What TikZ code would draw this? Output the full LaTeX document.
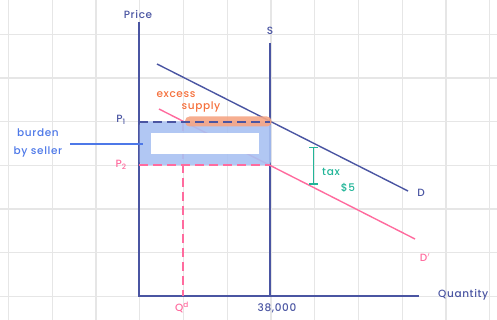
\documentclass[tikz,border=0pt]{standalone}
\usepackage{fontspec}
\setmainfont{Poppins}[LetterSpace=6, BoldFont={Poppins Medium}]
\definecolor{gridc}{HTML}{E6E6E6}
\definecolor{navy}{HTML}{4A55A2}
\definecolor{pinkc}{HTML}{FF6B9E}
\definecolor{orangec}{HTML}{F5703C}
\definecolor{orangehl}{HTML}{F5A584}
\definecolor{bluehl}{HTML}{A9C1F2}
\definecolor{bluet}{HTML}{4D78E8}
\definecolor{greenc}{HTML}{22B598}
\tikzset{
  gridline/.style={gridc, line width=1.4pt},
  axis/.style={navy, line width=1.8pt},
  curve/.style={line width=1.4pt},
  dashline/.style={line width=1.6pt, dash pattern=on 9pt off 5pt},
  lbl/.style={inner sep=0pt, font=\fontsize{10.5}{12}\selectfont\bfseries},
}
\begin{document}
\begin{tikzpicture}[x=1pt,y=-1pt]
\useasboundingbox (0,0) rectangle (497,320);
% grid
\foreach \k in {0,...,11} \draw[gridline] ({8.5+43.75*\k},0) -- ({8.5+43.75*\k},320);
\foreach \k in {0,...,6} \draw[gridline] (0,{34.3+43.67*\k}) -- (497,{34.3+43.67*\k});
% coordinates
\coordinate (ytop) at (139,22);
\coordinate (org) at (139,296);
\coordinate (xend) at (419,296);
\coordinate (stop) at (270,43);
\coordinate (sbot) at (270,296);
\coordinate (d1) at (157,64);
\coordinate (d2) at (408,191);
\coordinate (dd1) at (159,109);
\coordinate (dd2) at (415,239);
\coordinate (qtop) at (183,122);
\coordinate (qbot) at (183,296);
\coordinate (p1a) at (139,122);
\coordinate (p1b) at (270,122);
\coordinate (p2a) at (139,165);
\coordinate (p2b) at (270,165);
\coordinate (bl1) at (70,144);
\coordinate (bl2) at (143,144);
\coordinate (t1) at (313.5,147.5);
\coordinate (t2) at (313.5,184);
% axes and curves
\draw[axis] (ytop) -- (org) -- (xend);
\draw[navy, line width=1.6pt] (stop) -- (sbot);
\draw[navy, curve] (d1) -- (d2);
\draw[pinkc, curve] (dd1) -- (dd2);
\draw[pinkc, dashline] (qtop) -- (qbot);
% highlights
\fill[bluehl, opacity=0.9, rounded corners=4pt] (139.5,121.5) rectangle (271,165.5);
\fill[white] (151,133.5) rectangle (258.5,154);
\fill[orangehl, opacity=0.9, rounded corners=4.5pt] (185,116.5) rectangle (271.5,126.5);
% price lines
\draw[navy, dashline] (p1a) -- (p1b);
\draw[pinkc, dashline] (p2a) -- (p2b);
\draw[bluet, line width=1.4pt] (bl1) -- (bl2);
% tax bracket
\draw[greenc, line width=1.8pt] (t1) -- (t2);
\draw[greenc, line width=1.8pt] ([xshift=-4.5pt]t1) -- ([xshift=4.5pt]t1);
\draw[greenc, line width=1.8pt] ([xshift=-4.5pt]t2) -- ([xshift=4.5pt]t2);
% labels
\node[lbl, navy] (price) at (138,15) {Price};
\node[lbl, navy] (slbl) at (270,31) {S};
\node[lbl, orangec] (exc) at (176,95) {excess};
\node[lbl, orangec] (sup) at (201,107) {supply};
\node[lbl, navy] (p1) at (121,120) {P\textsubscript{1}};
\node[lbl, pinkc] (p2) at (121,165) {P\textsubscript{2}};
\node[lbl, bluet] (bur) at (38,133) {burden};
\node[lbl, bluet] (bys) at (38,152) {by seller};
\node[lbl, navy] (dl) at (421,193) {D};
\node[lbl, pinkc] (ddl) at (425,258) {D$'$};
\node[lbl, greenc] (tax) at (331,172) {tax};
\node[lbl, greenc] (five) at (348,188) {\$5};
\node[lbl, pinkc] (qd) at (182,307) {Q\textsuperscript{d}};
\node[lbl, navy] (q38) at (277,308) {38,000};
\node[lbl, navy, anchor=west] (qty) at (438,295) {Quantity};
\end{tikzpicture}
\end{document}
